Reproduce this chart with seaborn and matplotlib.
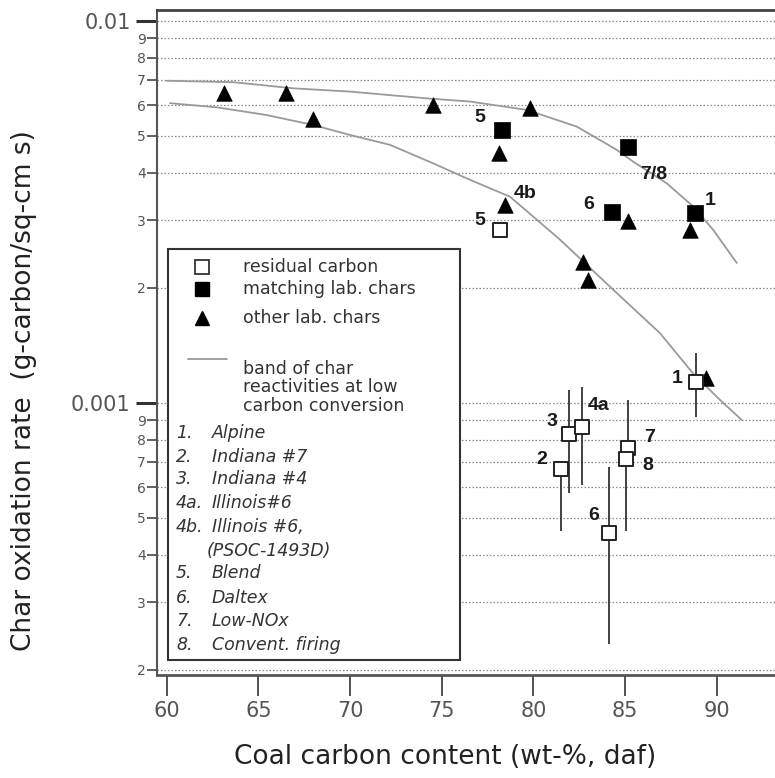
import numpy as np
import pandas as pd
import seaborn as sns
import matplotlib.pyplot as plt
from matplotlib.lines import Line2D
from matplotlib.patches import Rectangle

# ---------------- data ----------------
# other lab. chars (triangles)
tri_x = [63.13, 66.51, 68.0, 74.51, 79.82, 78.15, 78.46, 82.73, 83.0, 85.18, 88.55, 89.42]
tri_y = [6.48e-3, 6.48e-3, 5.52e-3, 6.01e-3, 5.90e-3, 4.50e-3, 3.29e-3, 2.34e-3, 2.09e-3,
         2.98e-3, 2.83e-3, 1.16e-3]

# matching lab. chars (filled squares)
match_lab = ['5', '7/8', '6', '1']
match_x = [78.27, 85.18, 84.28, 88.82]
match_y = [5.17e-3, 4.68e-3, 3.16e-3, 3.13e-3]

# residual carbon (open squares) with vertical ranges
resid_lab = ['1', '2', '3', '4a', '5', '6', '7', '8']
resid_x = [88.86, 81.49, 81.95, 82.64, 78.18, 84.15, 85.18, 85.08]
resid_y = [1.135e-3, 6.71e-4, 8.28e-4, 8.62e-4, 2.83e-3, 4.55e-4, 7.61e-4, 7.13e-4]
resid_lo = [9.19e-4, 4.62e-4, 5.79e-4, 6.09e-4, np.nan, 2.34e-4, 7.61e-4, 4.62e-4]
resid_hi = [1.349e-3, 6.71e-4, 1.08e-3, 1.10e-3, np.nan, 6.80e-4, 1.016e-3, 7.13e-4]

# "4b" label belongs to a triangle
tri4b_x, tri4b_y = 78.46, 3.29e-3

# band of char reactivities (upper and lower curves)
band_hi_x = [60.0, 63.63, 66.91, 70.0, 74.18, 76.55, 79.64, 82.37, 84.55, 85.46, 87.28, 88.73, 89.82, 91.10]
band_hi_y = [6.96e-3, 6.90e-3, 6.65e-3, 6.52e-3, 6.26e-3, 6.14e-3, 5.84e-3, 5.28e-3, 4.59e-3,
             4.27e-3, 3.75e-3, 3.26e-3, 2.83e-3, 2.32e-3]
band_lo_x = [60.18, 62.73, 65.46, 68.0, 70.0, 72.18, 74.54, 76.55, 78.73, 81.46, 84.19, 86.91, 88.73, 90.19, 91.37]
band_lo_y = [6.08e-3, 5.93e-3, 5.66e-3, 5.33e-3, 5.02e-3, 4.73e-3, 4.23e-3, 3.83e-3, 3.46e-3,
             2.67e-3, 2.01e-3, 1.52e-3, 1.19e-3, 1.016e-3, 9.01e-4]

x_ticks = [60, 65, 70, 75, 80, 85, 90]
y_major = [1e-3, 1e-2]
y_major_lab = ['0.001', '0.01']
y_minor = [2e-4, 3e-4, 4e-4, 5e-4, 6e-4, 7e-4, 8e-4, 9e-4,
           2e-3, 3e-3, 4e-3, 5e-3, 6e-3, 7e-3, 8e-3, 9e-3]
y_minor_lab = ['2', '3', '4', '5', '6', '7', '8', '9'] * 2

legend_items = ['residual carbon', 'matching lab. chars', 'other lab. chars']
band_text = ['band of char', 'reactivities at low', 'carbon conversion']
coal_num = ['1.', '2.', '3.', '4a.', '4b.', '', '5.', '6.', '7.', '8.']
coal_name = ['Alpine', 'Indiana #7', 'Indiana #4', 'Illinois#6', 'Illinois #6,',
             '(PSOC-1493D)', 'Blend', 'Daltex', 'Low-NOx', 'Convent. firing']

# ---------------- figure ----------------
sns.set_theme(style='white')
plt.rcParams['font.family'] = ['DejaVu Sans']

W, H = 775, 778
fig = plt.figure(figsize=(W / 100, H / 100), dpi=100)


def F(px, py):
    return px / W, 1 - py / H


ax = fig.add_axes([157 / W, 1 - 675 / H, (781 - 157) / W, (675 - 10) / H])
ax.set_yscale('log')

GRAY_LINE = '#9a9a9a'

# bands
df_hi = pd.DataFrame({'x': band_hi_x, 'y': band_hi_y})
df_lo = pd.DataFrame({'x': band_lo_x, 'y': band_lo_y})
sns.lineplot(data=df_hi, x='x', y='y', ax=ax, color=GRAY_LINE, lw=1.3, sort=False,
             estimator=None, zorder=2)
sns.lineplot(data=df_lo, x='x', y='y', ax=ax, color=GRAY_LINE, lw=1.3, sort=False,
             estimator=None, zorder=2)

# error bars for residual carbon
for x, lo, hi in zip(resid_x, resid_lo, resid_hi):
    if not np.isnan(lo):
        ax.vlines(x, lo, hi, color='#333333', lw=1.3, zorder=3)

# triangles
df_tri = pd.DataFrame({'x': tri_x, 'y': tri_y})
sns.scatterplot(data=df_tri, x='x', y='y', ax=ax, marker='^', s=125, color='black',
                edgecolor='black', linewidth=0.5, zorder=4)
# filled squares
df_m = pd.DataFrame({'x': match_x, 'y': match_y})
sns.scatterplot(data=df_m, x='x', y='y', ax=ax, marker='s', s=118, color='black',
                edgecolor='black', linewidth=0.5, zorder=5)
# open squares
df_r = pd.DataFrame({'x': resid_x, 'y': resid_y})
sns.scatterplot(data=df_r, x='x', y='y', ax=ax, marker='s', s=105, color='white',
                edgecolor='#222222', linewidth=1.4, zorder=6)

# point labels
lab_font = dict(family='Liberation Sans', weight='bold', size=14, color='#1a1a1a')
match_off = {'5': (-22, 13), '7/8': (25, -28), '6': (-23, 7), '1': (15, 13)}
for lab, x, y in zip(match_lab, match_x, match_y):
    ax.annotate(lab, (x, y), xytext=match_off[lab], textcoords='offset pixels',
                ha='center', va='center', zorder=8, **lab_font)
resid_off = {'1': (-19, 3), '2': (-19, 9), '3': (-17, 12), '4a': (17, 22), '5': (-20, 10),
             '6': (-16, 18), '7': (21, 10), '8': (21, -7)}
for lab, x, y in zip(resid_lab, resid_x, resid_y):
    ax.annotate(lab, (x, y), xytext=resid_off[lab], textcoords='offset pixels',
                ha='center', va='center', zorder=8, **lab_font)
ax.annotate('4b', (tri4b_x, tri4b_y), xytext=(20, 12), textcoords='offset pixels',
            ha='center', va='center', zorder=8, **lab_font)

# axes limits and ticks
ax.set_xlim(59.47, 93.51)
ax.set_ylim(1.937e-4, 1.0662e-2)
ax.set_xticks(x_ticks)
ax.set_xticklabels([str(t) for t in x_ticks])
ax.set_yticks(y_major)
ax.set_yticklabels(y_major_lab)
ax.set_yticks(y_minor, minor=True)
ax.set_yticklabels(y_minor_lab, minor=True)
ax.set_xlabel('')
ax.set_ylabel('')

ax.tick_params(axis='x', which='major', direction='out', length=15, width=1.3,
               color='#444444', labelsize=15, labelcolor='#555555', pad=4,
               bottom=True)
ax.tick_params(axis='y', which='major', direction='out', length=15, width=2.2,
               color='#333333', labelsize=15, labelcolor='#555555', pad=4, left=True)
ax.tick_params(axis='y', which='minor', direction='out', length=7, width=1.3,
               color='#555555', labelsize=10, labelcolor='#555555', pad=1, left=True)

# dotted horizontal grid
for yv in y_major + y_minor:
    ax.axhline(yv, color='#8a8a8a', lw=0.9, ls=(0, (1.2, 1.6)), zorder=0.5)

for side in ['left', 'bottom', 'top', 'right']:
    ax.spines[side].set_visible(True)
ax.spines['left'].set_color('#555555')
ax.spines['left'].set_linewidth(1.5)
ax.spines['bottom'].set_color('#555555')
ax.spines['bottom'].set_linewidth(2.0)
ax.spines['top'].set_color('#444444')
ax.spines['top'].set_linewidth(2.0)
ax.spines['right'].set_color('#444444')

# axis labels
fig.text(*F(445, 757), 'Coal carbon content (wt-%, daf)', ha='center', va='center',
         fontsize=19, color='#222222')
fig.text(*F(24, 391), 'Char oxidation rate  (g-carbon/sq-cm s)', ha='center', va='center',
         rotation=90, fontsize=19, color='#222222')

# ---------------- legend box ----------------
box = Rectangle(F(168, 660), (460 - 168) / W, (660 - 249) / H, transform=fig.transFigure,
                facecolor='white', edgecolor='#333333', lw=1.5, zorder=10)
fig.add_artist(box)

leg_font = dict(fontsize=12.5, color='#333333', va='center', ha='left', zorder=11)
mk = [dict(marker='s', ms=10, mfc='white', mec='#333333', mew=1.3),
      dict(marker='s', ms=10, mfc='black', mec='black'),
      dict(marker='^', ms=10.5, mfc='black', mec='black')]
for i, (txt, m) in enumerate(zip(legend_items, mk)):
    py = [267, 289.5, 317.5][i]
    fig.add_artist(Line2D([201.7 / W], [1 - py / H], transform=fig.transFigure, ls='none',
                          zorder=11, **m))
    fig.text(*F(243, py), txt, **leg_font)

fig.add_artist(Line2D([188 / W, 227 / W], [1 - 359 / H] * 2, transform=fig.transFigure,
                      color=GRAY_LINE, lw=1.3, zorder=11))
for i, t in enumerate(band_text):
    fig.text(*F(243, 369 + i * 18.5), t, **leg_font)

coal_y = [433, 457, 479.5, 503, 526.5, 551, 573.5, 598, 621.5, 645]
for num, name, py in zip(coal_num, coal_name, coal_y):
    if num:
        fig.text(*F(176, py), num, style='italic', **leg_font)
        fig.text(*F(211.5, py), name, style='italic', **leg_font)
    else:
        fig.text(*F(207, py), name, style='italic', **leg_font)

fig.savefig('out.png', dpi=100)
